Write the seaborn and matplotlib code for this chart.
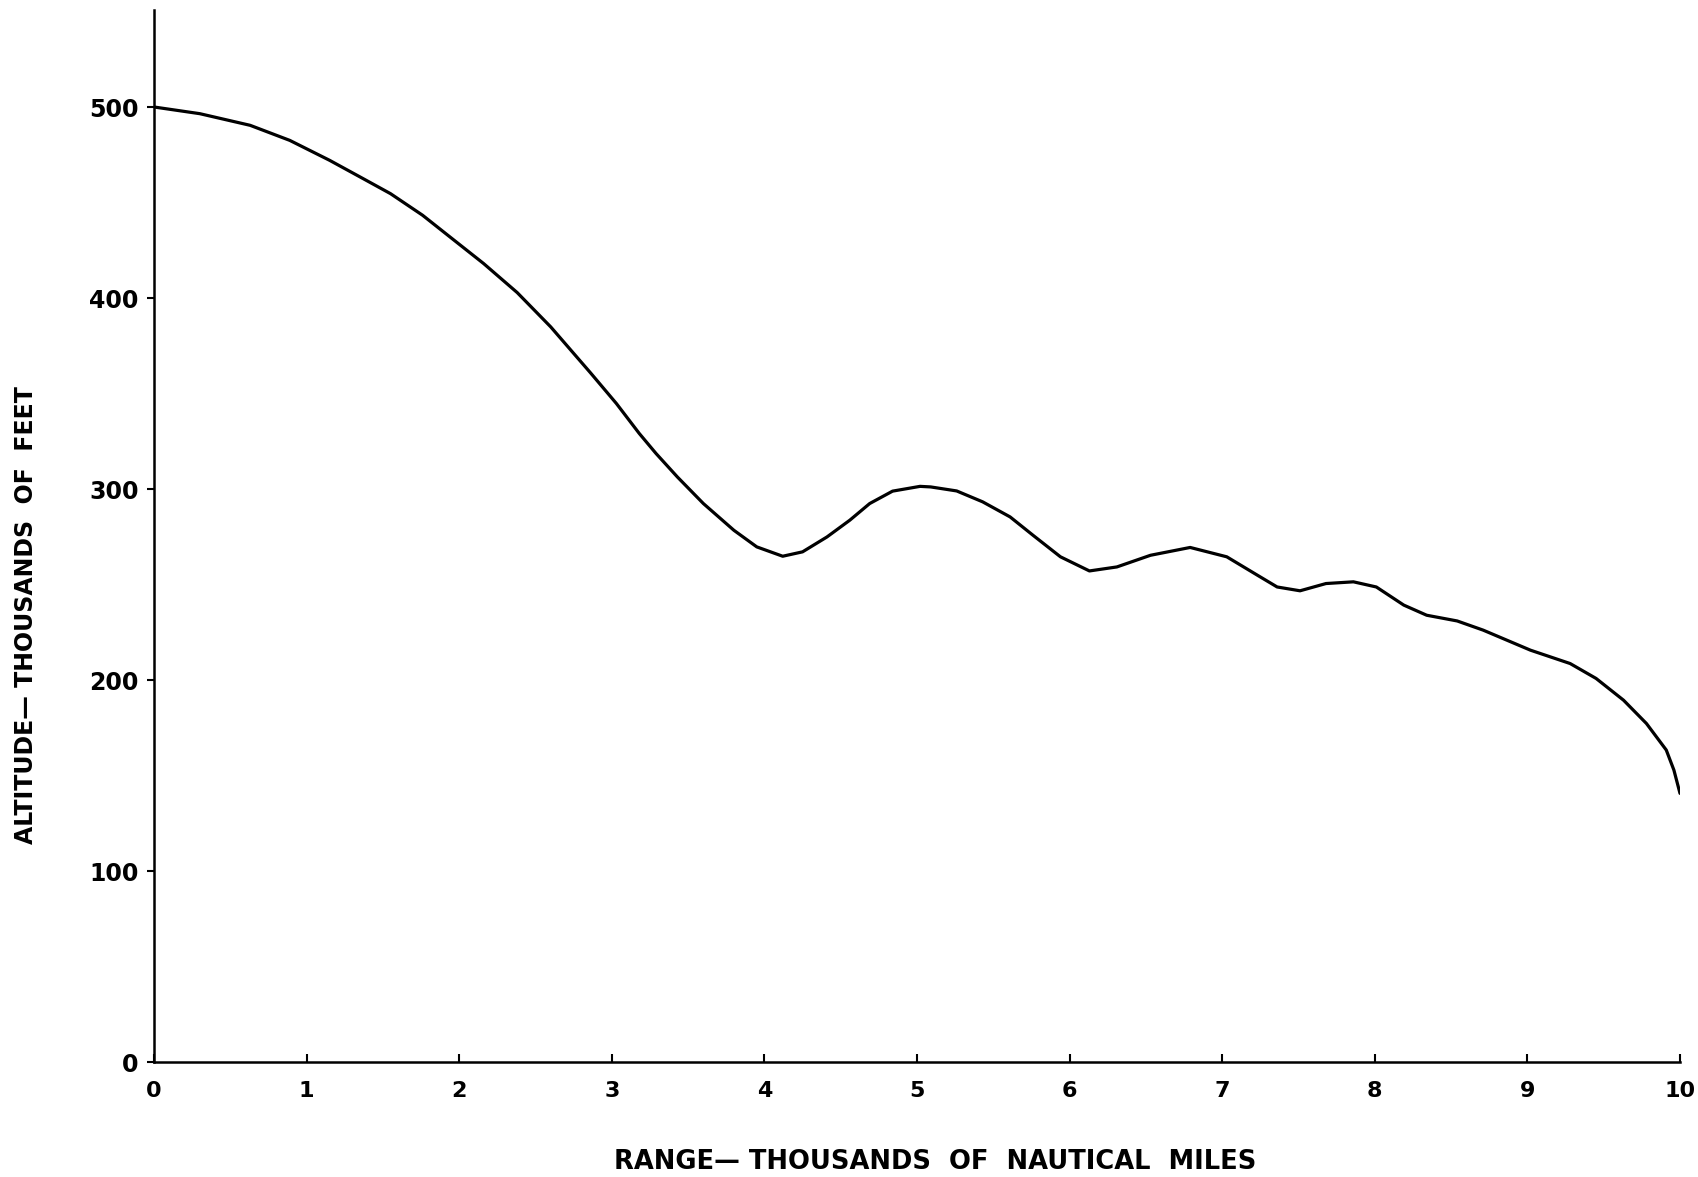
import matplotlib
matplotlib.use("Agg")
import matplotlib.pyplot as plt
import seaborn as sns
import pandas as pd

range_kmi = [0.00, 0.30, 0.63, 0.89, 1.15, 1.37, 1.55, 1.76, 1.94, 2.16,
             2.38, 2.60, 2.77, 2.86, 3.03, 3.18, 3.29, 3.43, 3.60, 3.80,
             3.95, 4.12, 4.25, 4.41, 4.56, 4.69, 4.84, 5.02, 5.09, 5.26,
             5.43, 5.61, 5.76, 5.94, 6.13, 6.31, 6.53, 6.79, 7.03, 7.23,
             7.36, 7.51, 7.68, 7.86, 8.01, 8.19, 8.34, 8.54, 8.71, 9.02,
             9.28, 9.45, 9.63, 9.78, 9.91, 9.96, 10.0]
altitude_kft = [500.2, 496.7, 490.6, 482.7, 472.3, 462.7, 454.8, 443.5, 432.1, 418.2,
                403.0, 385.0, 369.3, 361.0, 344.9, 329.2, 318.7, 306.4, 292.5, 278.5,
                269.8, 264.9, 267.2, 275.0, 283.8, 292.5, 299.0, 301.5, 301.2, 299.1,
                293.4, 285.5, 275.9, 264.6, 257.2, 259.3, 265.4, 269.5, 264.6, 255.0,
                248.8, 246.8, 250.6, 251.5, 248.8, 239.3, 234.0, 231.0, 226.2, 215.7,
                208.7, 200.9, 189.5, 177.3, 163.4, 152.9, 140.7]

x_ticks = [0, 1, 2, 3, 4, 5, 6, 7, 8, 9, 10]
y_ticks = [0, 100, 200, 300, 400, 500]
y_tick_labels = ["0", "100", "200", "300", "400", "500"]

df = pd.DataFrame({"range": range_kmi, "altitude": altitude_kft})

sns.set_style("ticks")
plt.rcParams["font.family"] = ["DejaVu Sans"]
plt.rcParams["text.color"] = "black"
plt.rcParams["axes.labelcolor"] = "black"
plt.rcParams["xtick.color"] = "black"
plt.rcParams["ytick.color"] = "black"

fig = plt.figure(figsize=(16.99, 11.77), dpi=100)
ax = fig.add_axes([154 / 1699, 1 - 1062 / 1177, 1526 / 1699, 1052 / 1177])

sns.lineplot(data=df, x="range", y="altitude", ax=ax, color="black",
             linewidth=2.3, sort=False, solid_joinstyle="round", solid_capstyle="round")

ax.set_xlim(0, 10)
ax.set_ylim(0, 551)
ax.set_xticks(x_ticks)
ax.set_xticklabels([str(t) for t in x_ticks], fontsize=16, fontweight="bold")
ax.set_yticks(y_ticks)
ax.set_yticklabels(y_tick_labels, fontsize=17, fontweight="bold")

ax.tick_params(axis="x", direction="in", length=6, width=1.5, pad=14, colors="black")
ax.tick_params(axis="y", direction="out", length=5, width=1.5, pad=6, colors="black")

for s in ["top", "right"]:
    ax.spines[s].set_visible(False)
for s in ["left", "bottom"]:
    ax.spines[s].set_linewidth(1.8)
    ax.spines[s].set_color("black")

ax.set_xlabel("RANGE\u2014 THOUSANDS  OF  NAUTICAL  MILES", fontsize=18.5,
              fontweight="bold", color="black")
ax.set_ylabel("ALTITUDE\u2014 THOUSANDS  OF  FEET", fontsize=17,
              fontweight="bold", color="black")
ax.xaxis.set_label_coords(0.512, -0.083)
ax.yaxis.set_label_coords(-0.076, 0.425)

fig.savefig("out.png", dpi=100, facecolor="white")
